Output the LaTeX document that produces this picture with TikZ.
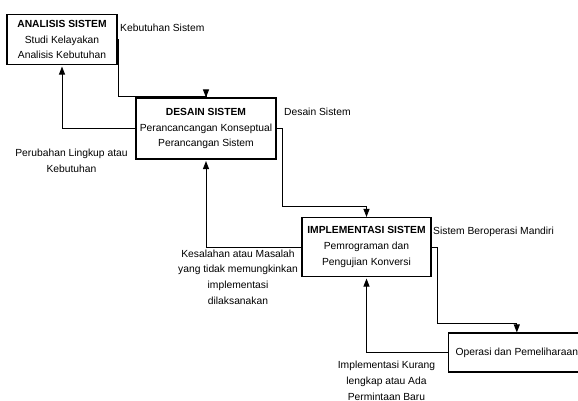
\documentclass[tikz,border=0pt]{standalone}
\usepackage{fontspec}
\setmainfont{Liberation Sans}
\usetikzlibrary{arrows.meta}
\begin{document}
\begin{tikzpicture}[x=1pt,y=-1pt,
  every node/.style={font=\fontsize{10.3}{15.6}\selectfont},
  box/.style={draw,line width=1.1pt,align=center,inner sep=0pt},
  lbl/.style={inner sep=0pt,align=center,anchor=base},
  lblw/.style={inner sep=0pt,anchor=base west},
  arr/.style={line width=0.9pt,-{Triangle[length=8pt,width=6pt]}},
  arrup/.style={arr,shorten >=1.5pt}]
\fill[white] (0,0) rectangle (578,401);
\useasboundingbox (0,0) rectangle (578,401);
% boxes
\node[box,minimum width=110pt,minimum height=50pt] (b1) at (62,39.5)
  {\textbf{ANALISIS SISTEM}\\Studi Kelayakan\\Analisis Kebutuhan};
\node[box,minimum width=140pt,minimum height=61pt] (b2) at (206,128.5)
  {\textbf{DESAIN SISTEM}\\Perancancangan Konseptual\\Perancangan Sistem};
\node[box,minimum width=129pt,minimum height=59pt] (b3) at (366.5,247)
  {\textbf{IMPLEMENTASI SISTEM}\\Pemrograman dan\\Pengujian Konversi};
\node[box,anchor=west,inner xsep=7pt,minimum height=39pt] (b4) at (448,352.5)
  {Operasi dan Pemeliharaan};
% bend points
\coordinate (k1) at (118,96.5);
\coordinate (k2) at (282.5,206.5);
\coordinate (k3) at (437,323);
% connectors
\draw[arr] (b1.east) -| (k1) -| (b2.north);
\draw[arrup] (b2.west) -| (b1.south);
\draw[arr] (b2.east) -| (k2) -| (b3.north);
\draw[arrup] (b3.west) -| (b2.south);
\draw[arr] (b3.east) -| (k3) -| (b4.north);
\draw[arrup] (b4.west) -| (b3.south);
% labels
\node[lblw] (l1) at (120,32) {Kebutuhan Sistem};
\node[lblw] (l2) at (284,116) {Desain Sistem};
\node[lbl] (l3) at (71.5,172) {Perubahan Lingkup atau\\Kebutuhan};
\node[lbl] (l4) at (238,304) {Kesalahan atau Masalah\\yang tidak memungkinkan\\implementasi\\dilaksanakan};
\node[lblw] (l5) at (433,234) {Sistem Beroperasi Mandiri};
\node[lbl] (l6) at (386.5,400) {Implementasi Kurang\\lengkap atau Ada\\Permintaan Baru};
\end{tikzpicture}
\end{document}
